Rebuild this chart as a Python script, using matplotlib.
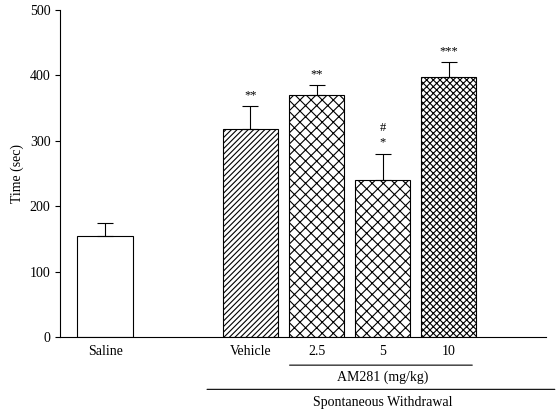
import matplotlib
matplotlib.use("Agg")
import matplotlib.pyplot as plt

plt.rcParams['font.family'] = ['Liberation Serif', 'DejaVu Serif']
plt.rcParams['hatch.linewidth'] = 0.8

# datos
groups = ['Saline', 'Vehicle', '2.5', '5', '10']
positions = [0, 2.2, 3.2, 4.2, 5.2]
means = [155, 318, 370, 240, 398]
errors = [20, 35, 15, 40, 22]
hatches = ['', '//////', 'xxx', 'xxx', 'xxxxx']
marks = ['', '**', '**', '#\n*', '***']

fig = plt.figure(figsize=(5.58, 4.13), dpi=100)
ax = fig.add_axes([0.108, 0.184, 0.87, 0.792])

for x, m, e, h, s in zip(positions, means, errors, hatches, marks):
    ax.bar(x, m, width=0.84, color='white', edgecolor='black', hatch=h, linewidth=0.8)
    ax.errorbar(x, m, yerr=[[0], [e]], color='black', capsize=6, elinewidth=0.8, capthick=0.8)
    if s:
        ax.text(x, m + e + 8, s, ha='center', va='bottom', fontsize=9, linespacing=1.3)

ax.set_xlim(-0.68, 6.67)
ax.set_ylim(0, 500)
ax.set_yticks(range(0, 501, 100))
ax.set_xticks(positions)
ax.set_xticklabels(groups, fontsize=10)
ax.tick_params(axis='x', length=0, pad=6)
ax.tick_params(axis='y', direction='out', labelsize=10)
ax.spines['top'].set_visible(False)
ax.spines['right'].set_visible(False)
ax.set_ylabel('Time (sec)', fontsize=10)

# etiquetas de grupos debajo del eje
ax.annotate('', xy=(2.75, -0.086), xytext=(5.6, -0.086), xycoords=('data', 'axes fraction'),
            arrowprops=dict(arrowstyle='-', lw=0.8), annotation_clip=False)
ax.text(4.2, -0.123, 'AM281 (mg/kg)', transform=ax.get_xaxis_transform(), ha='center', va='center', fontsize=10)
ax.annotate('', xy=(1.5, -0.16), xytext=(6.85, -0.16), xycoords=('data', 'axes fraction'),
            arrowprops=dict(arrowstyle='-', lw=0.8), annotation_clip=False)
ax.text(4.2, -0.2, 'Spontaneous Withdrawal', transform=ax.get_xaxis_transform(), ha='center', va='center', fontsize=10)

fig.savefig('out.png', dpi=100)
